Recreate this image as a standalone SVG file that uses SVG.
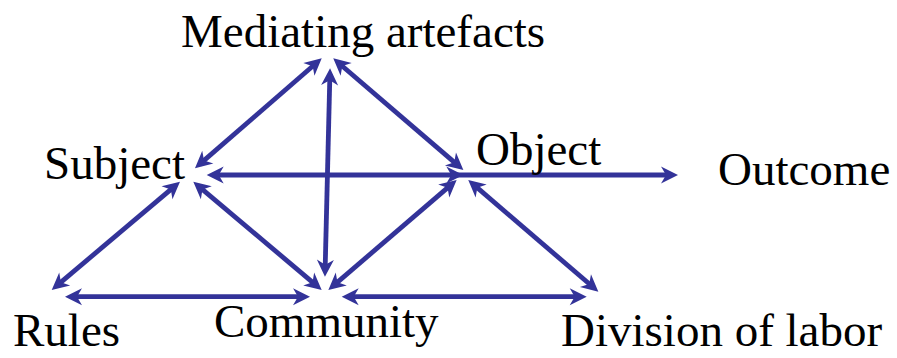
<svg xmlns="http://www.w3.org/2000/svg" width="897" height="358" viewBox="0 0 897 358">
<style>
.lbl{font-family:"Liberation Serif","Times New Roman",serif;font-size:47px;fill:#000}
.c{stroke:#333399;stroke-width:4.8;fill:none;stroke-linecap:butt}
.bi{marker-start:url(#ah);marker-end:url(#ah)}
.one{marker-end:url(#ah)}
</style>
<defs>
<marker id="ah" markerUnits="userSpaceOnUse" viewBox="0 -10 20 20" markerWidth="20" markerHeight="20" refX="11" refY="0" orient="auto-start-reverse" overflow="visible">
<path d="M17,0 L0,-8.5 L5,0 L0,8.5 Z" fill="#333399"/>
</marker>
</defs>
<rect width="897" height="358" fill="#fff"/>
<g id="connectors">
<line class="c bi" x1="199.5" y1="164.4" x2="317.2" y2="62.2"/>
<line class="c bi" x1="329.9" y1="74.3" x2="325.1" y2="270.7"/>
<line class="c bi" x1="337.8" y1="62.2" x2="458.8" y2="166.1"/>
<line class="c bi" x1="212.7" y1="175" x2="457.3" y2="175"/>
<line class="c one" x1="457" y1="175" x2="672" y2="175"/>
<line class="c bi" x1="175.4" y1="185.6" x2="56.3" y2="286.1"/>
<line class="c bi" x1="197.9" y1="185.6" x2="317.1" y2="286.1"/>
<line class="c bi" x1="71" y1="296.7" x2="304" y2="296.7"/>
<line class="c bi" x1="332.9" y1="286.1" x2="452.1" y2="183.9"/>
<line class="c bi" x1="472.8" y1="183.9" x2="593.8" y2="287.8"/>
<line class="c bi" x1="347.7" y1="296.7" x2="580.7" y2="296.7"/>
</g>
<g id="mediating"><text class="lbl" x="181" y="46.5">Mediating artefacts</text></g>
<g id="subject"><text class="lbl" x="44" y="178.5">Subject</text></g>
<g id="object"><text class="lbl" x="476" y="165">Object</text></g>
<g id="outcome"><text class="lbl" x="718" y="185">Outcome</text></g>
<g id="rules"><text class="lbl" x="13" y="346">Rules</text></g>
<g id="community"><text class="lbl" x="214" y="336.5">Community</text></g>
<g id="division"><text class="lbl" x="561" y="346">Division of labor</text></g>
</svg>
